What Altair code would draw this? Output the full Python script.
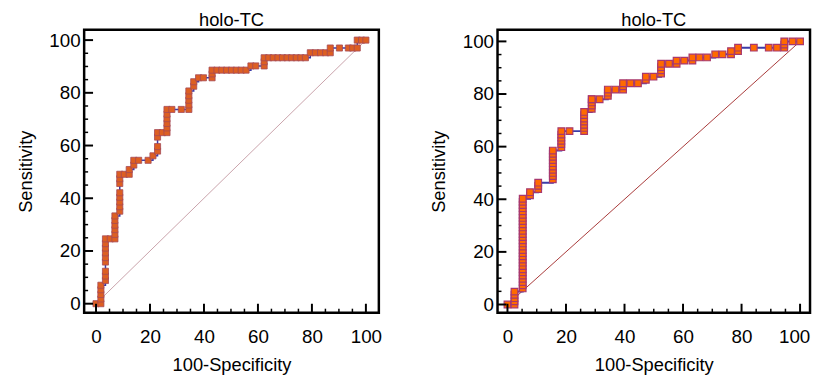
import altair as alt
import pandas as pd

# ---------------- data ----------------
left_fpr = [0, 1.8, 1.8, 1.8, 1.8, 1.8,
            3.5, 3.5, 3.5, 3.5, 3.5, 3.5, 3.5, 3.5, 3.5,
            5.3, 7.0, 7.0, 7.0, 7.0, 7.0, 7.0,
            8.8, 8.8, 8.8, 8.8, 8.8, 8.8, 8.8, 8.8,
            10.5, 12.3, 12.3, 14.0, 14.0, 15.8, 19.3, 21.1,
            22.8, 22.8, 22.8, 22.8, 24.6, 26.3, 26.3, 26.3, 26.3, 26.3, 26.3,
            28.1, 31.6, 34.4, 34.4, 34.4, 34.4, 34.4, 36.2, 36.2,
            38.0, 39.8, 43.0, 43.0, 43.0,
            44.8, 46.6, 48.4, 50.2, 52.0, 53.8, 55.6,
            57.4, 59.2, 62.3, 62.3, 62.3,
            64.0, 65.7, 67.4, 69.1, 70.8, 72.5, 74.2, 75.9, 77.6,
            79.4, 81.3, 83.2, 85.1, 86.8, 86.8,
            90.2, 93.5, 95.1, 96.8, 96.8, 98.4, 100]
left_tpr = [0, 0, 1.8, 3.5, 5.3, 7.0,
            8.8, 10.5, 12.3, 15.8, 17.5, 19.3, 21.1, 22.8, 24.6,
            24.6, 24.6, 26.3, 28.1, 29.8, 31.6, 33.3,
            35.1, 36.8, 38.6, 40.4, 42.1, 45.6, 47.4, 49.1,
            49.1, 49.1, 50.9, 52.6, 54.4, 54.4, 54.4, 56.1,
            57.9, 59.6, 63.2, 64.9, 64.9, 64.9, 66.7, 68.4, 70.2, 71.9, 73.7,
            73.7, 73.7, 73.7, 75.4, 77.2, 78.9, 80.7, 82.5, 84.2,
            85.7, 85.7, 85.7, 87.2, 88.6,
            88.6, 88.6, 88.6, 88.6, 88.6, 88.6, 88.6,
            90.2, 90.2, 90.2, 91.8, 93.3,
            93.3, 93.3, 93.3, 93.3, 93.3, 93.3, 93.3, 93.3, 93.3,
            95.2, 95.2, 95.2, 95.2, 95.2, 97.0,
            97.0, 97.0, 97.0, 97.0, 100, 100, 100]

right_fpr = [0, 2.4, 2.4, 2.4, 2.4, 2.4,
             5.2, 5.2, 5.2, 5.2, 5.2, 5.2, 5.2, 5.2, 5.2, 5.2,
             5.2, 5.2, 5.2, 5.2, 5.2, 5.2, 5.2, 5.2, 5.2, 5.2,
             5.2, 5.2, 5.2, 5.2, 5.2, 5.2, 5.2, 5.2, 5.2,
             7.7, 7.7, 10.5, 10.5, 10.5,
             15.5, 15.5, 15.5, 15.5, 15.5, 15.5, 15.5, 15.5, 15.5, 15.5,
             18.4, 18.4, 18.4, 18.4, 18.4, 18.4, 21.2,
             26.2, 26.2, 26.2, 26.2, 26.2, 26.2, 26.2,
             28.8, 28.8, 28.8, 28.8, 28.8, 31.5,
             34.3, 34.3, 34.3, 36.9, 39.5, 39.5, 39.5, 42.0, 44.6,
             47.3, 47.3, 49.9, 52.5, 52.5, 52.5, 52.5, 55.2,
             57.8, 57.8, 60.4, 63.2, 63.2, 65.6, 68.2,
             71.0, 73.5, 76.4, 76.4, 78.8, 78.8,
             84.2, 89.3, 92.1, 94.6, 94.6, 94.6, 97.4, 100]
right_tpr = [0, 0, 1.2, 2.4, 3.7, 4.9,
             6.1, 7.3, 8.5, 9.8, 11.0, 12.2, 13.4, 14.6, 15.9, 17.1,
             18.3, 19.5, 20.7, 22.0, 23.2, 24.4, 25.6, 26.8, 28.0, 29.3,
             30.5, 31.7, 32.9, 34.1, 35.4, 36.6, 37.8, 39.0, 40.2,
             41.5, 42.7, 43.9, 45.1, 46.3,
             47.6, 48.8, 50.0, 51.2, 52.4, 53.7, 54.9, 56.1, 57.3, 58.5,
             59.8, 61.0, 62.2, 63.4, 64.6, 65.9, 65.9,
             65.9, 67.1, 68.3, 69.5, 70.7, 72.0, 73.2,
             74.4, 75.6, 76.8, 78.0, 78.0, 78.0,
             79.3, 80.5, 81.7, 81.7, 81.7, 82.9, 84.1, 84.1, 84.1,
             85.4, 86.6, 86.6, 87.8, 89.0, 90.2, 91.5, 91.5,
             91.5, 92.7, 92.7, 92.7, 93.9, 93.9, 93.9,
             95.1, 95.1, 95.1, 96.3, 96.3, 97.6,
             97.6, 97.6, 97.6, 97.6, 98.8, 100, 100, 100]

diag_x = [0, 100]
diag_y = [0, 100]
major_ticks = [0, 20, 40, 60, 80, 100]
minor_ticks = [5, 10, 15, 25, 30, 35, 45, 50, 55, 65, 70, 75, 85, 90, 95]

FONT = "Liberation Sans"


def panel(fpr, tpr, w, h, xdom, ydom, fill, stroke, line_color, line_w,
          diag_color, size, sw, last_label_shift):
    df = pd.DataFrame({"fpr": fpr, "tpr": tpr, "i": list(range(len(fpr)))})
    diag = pd.DataFrame({"fpr": diag_x, "tpr": diag_y})
    maj = pd.DataFrame({"v": major_ticks})
    mnr = pd.DataFrame({"v": minor_ticks})

    xs = alt.Scale(domain=xdom, nice=False, zero=False)
    ys = alt.Scale(domain=ydom, nice=False, zero=False)
    xaxis = alt.Axis(values=major_ticks, title="100-Specificity", grid=False,
                     domain=False, ticks=False, labelFont=FONT, labelFontSize=19,
                     labelColor="black", labelPadding=15, titleFont=FONT,
                     titleFontSize=18.5, titleFontWeight="normal", titleColor="black",
                     titlePadding=9, labelFlush=False,
                     labelOffset={"condition": {"test": "datum.value == 100",
                                                "value": last_label_shift},
                                  "value": 0})
    yaxis = alt.Axis(values=major_ticks, title="Sensitivity", grid=False,
                     domain=False, ticks=False, labelFont=FONT, labelFontSize=19,
                     labelColor="black", labelPadding=4, titleFont=FONT,
                     titleFontSize=18.5, titleFontWeight="normal", titleColor="black",
                     titlePadding=14, labelFlush=False)

    def X(f):
        return alt.X(f, scale=xs, axis=xaxis)

    def Y(f):
        return alt.Y(f, scale=ys, axis=yaxis)

    xt_major = alt.Chart(maj).mark_rule(color="black", strokeWidth=2).encode(
        x=X("v:Q"), y=alt.value(h), y2=alt.value(h - 9))
    xt_minor = alt.Chart(mnr).mark_rule(color="black", strokeWidth=1.5).encode(
        x=X("v:Q"), y=alt.value(h), y2=alt.value(h - 4))
    yt_major = alt.Chart(maj).mark_rule(color="black", strokeWidth=2).encode(
        y=Y("v:Q"), x=alt.value(0), x2=alt.value(9))
    yt_minor = alt.Chart(mnr).mark_rule(color="black", strokeWidth=1.5).encode(
        y=Y("v:Q"), x=alt.value(0), x2=alt.value(4))

    dline = alt.Chart(diag).mark_line(color=diag_color, strokeWidth=1).encode(
        x=X("fpr:Q"), y=Y("tpr:Q"))
    curve = alt.Chart(df).mark_line(color=line_color, strokeWidth=line_w,
                                    interpolate="step-after").encode(
        x=X("fpr:Q"), y=Y("tpr:Q"), order="i:Q")
    pts = alt.Chart(df).mark_square(size=size, fill=fill, stroke=stroke,
                                    strokeWidth=sw, opacity=1).encode(
        x=X("fpr:Q"), y=Y("tpr:Q"))

    return alt.layer(dline, curve, pts, xt_major, xt_minor, yt_major, yt_minor).properties(
        width=w, height=h,
        title=alt.TitleParams("holo-TC", font=FONT, fontSize=18.5,
                              fontWeight="normal", color="black",
                              anchor="middle", offset=0))


left = panel(left_fpr, left_tpr, 298, 286, [-4.4, 104.8], [-3.4, 103.9],
             "#dd5f22", "#a54a58", "#3a3aa8", 1.5, "#c9a3ab", 38, 0.8, 0)
right = panel(right_fpr, right_tpr, 316, 286, [-3.4, 103.4], [-3.1, 104.4],
              "#ff6a00", "#a8386e", "#3c3ca8", 2, "#a83a3a", 45, 1.2, -6)

chart = alt.hconcat(left, right, spacing=45).properties(
    padding={"left": 7, "top": 0, "right": 0, "bottom": 0},
    background="white"
).configure_view(stroke="black", strokeWidth=2.5)

chart.save("out.html", embed_options={"renderer": "svg", "actions": False})
